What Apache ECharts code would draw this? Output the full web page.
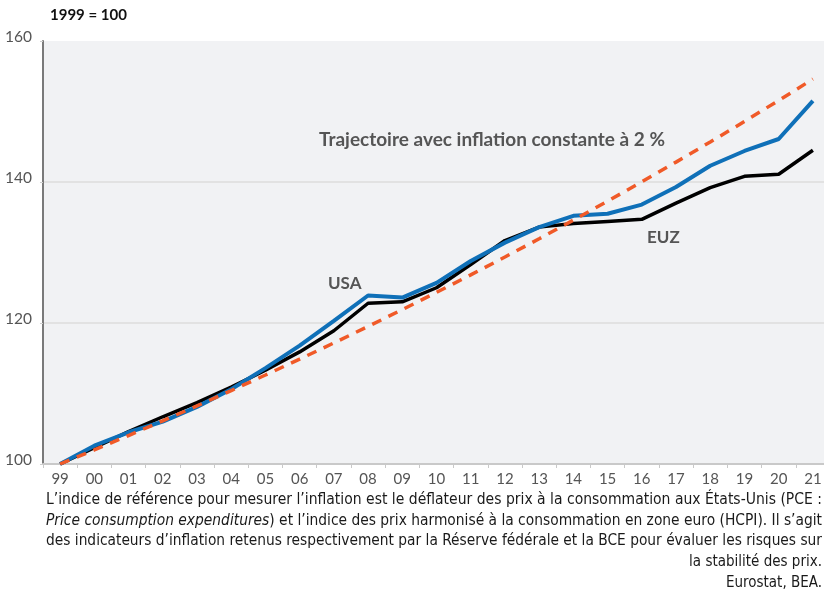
<!DOCTYPE html>
<html>
<head>
<meta charset="utf-8">
<script src="https://cdn.jsdelivr.net/npm/echarts@6/dist/echarts.min.js"></script>
<style>
html,body{margin:0;padding:0;background:#fff;}
#chart{width:824px;height:599px;}
</style>
</head>
<body>
<div id="chart"></div>
<script>
var categories = ['99','00','01','02','03','04','05','06','07','08','09','10','11','12','13','14','15','16','17','18','19','20','21'];
var usa = [100, 102.6, 104.5, 106.0, 108.1, 110.6, 113.6, 116.8, 120.3, 123.9, 123.6, 125.7, 128.8, 131.4, 133.6, 135.2, 135.5, 136.8, 139.3, 142.3, 144.4, 146.1, 151.5];
var euz = [100, 102.3, 104.6, 106.7, 108.7, 110.9, 113.3, 115.9, 118.9, 122.8, 123.0, 125.0, 128.3, 131.7, 133.6, 134.1, 134.4, 134.7, 137.0, 139.2, 140.8, 141.1, 144.5];
var trend2pct = [100, 102.0, 104.04, 106.12, 108.24, 110.41, 112.62, 114.87, 117.17, 119.51, 121.90, 124.34, 126.82, 129.36, 131.95, 134.59, 137.28, 140.02, 142.82, 145.68, 148.59, 151.57, 154.60];
var yTicks = [100, 120, 140, 160];
var footLines = [
  [{t:"L\u2019indice de r\u00e9f\u00e9rence pour mesurer l\u2019inflation est le d\u00e9flateur des prix \u00e0 la consommation aux \u00c9tats-Unis (PCE :", i:false}],
  [{t:"Price consumption expenditures", i:true},{t:") et l\u2019indice des prix harmonis\u00e9 \u00e0 la consommation en zone euro (HCPI). Il s\u2019agit", i:false}],
  [{t:"des indicateurs d\u2019inflation retenus respectivement par la R\u00e9serve f\u00e9d\u00e9rale et la BCE pour \u00e9valuer les risques sur", i:false}],
  [{t:"la stabilit\u00e9 des prix.", i:false}],
  [{t:"Eurostat, BEA.", i:false}]
];

var FONT = 'Lato';
var chart = echarts.init(document.getElementById('chart'), null, {renderer:'canvas'});

// footnote
var footSize = 15;
var footFont = '"Liberation Sans Narrow", "DejaVu Sans Condensed", sans-serif';
var cv = document.createElement('canvas').getContext('2d');
function measure(parts){
  var w = 0;
  parts.forEach(function(p){
    cv.font = (p.i ? 'italic ' : '') + footSize + 'px ' + footFont;
    w += cv.measureText(p.t).width;
  });
  return w;
}
var graphics = [];
footLines.forEach(function(parts, idx){
  var txt = parts.map(function(p){ return p.i ? '{i|' + p.t + '}' : p.t; }).join('');
  var w = measure(parts);
  var s = 1;
  if (idx < 3) { s = 776 / w; }
  graphics.push({
    type:'text', x:822, y:500 + idx*20.7, scaleX:s, silent:true,
    style:{text:txt, align:'right', verticalAlign:'middle', fill:'#1a1a1a',
      font: footSize + 'px ' + footFont,
      rich:{i:{fontStyle:'italic', fontSize:footSize, fontFamily:footFont, fill:'#1a1a1a'}}}
  });
});
graphics.push({type:'text', x:50, y:15, silent:true,
  style:{text:'1999 = 100', align:'left', verticalAlign:'middle', fill:'#111', font:'bold 15px ' + FONT}});
graphics.push({type:'text', x:319, y:140, silent:true,
  style:{text:'Trajectoire avec inflation constante \u00e0 2 %', align:'left', verticalAlign:'middle', fill:'#555', font:'bold 19px ' + FONT}});
graphics.push({type:'text', x:328, y:284, silent:true,
  style:{text:'USA', align:'left', verticalAlign:'middle', fill:'#555', font:'bold 17px ' + FONT}});
graphics.push({type:'text', x:647, y:238, silent:true,
  style:{text:'EUZ', align:'left', verticalAlign:'middle', fill:'#555', font:'bold 17px ' + FONT}});

var option = {
  animation:false,
  backgroundColor:'#ffffff',
  grid:{left:43, top:41, width:787, height:423, show:true, backgroundColor:'#f1f2f4', borderWidth:0, containLabel:false, outerBoundsMode:'none'},
  xAxis:{
    type:'category', data:categories, boundaryGap:true,
    axisLine:{lineStyle:{color:'#c9c9c9', width:2}},
    axisTick:{show:true, length:4, lineStyle:{color:'#c9c9c9', width:1}},
    axisLabel:{interval:0, color:'#555', fontSize:15, fontFamily:FONT, margin:8},
    splitLine:{show:false}
  },
  yAxis:{
    type:'value', min:yTicks[0], max:yTicks[yTicks.length-1], interval:20,
    axisLine:{show:true, lineStyle:{color:'#7a7a7a', width:2}},
    axisTick:{show:true, length:3, lineStyle:{color:'#cfcfcf'}},
    axisLabel:{color:'#555', fontSize:15.5, fontFamily:FONT, margin:11, verticalAlign:'bottom', padding:[0,0,-4,0]},
    splitLine:{show:true, lineStyle:{color:['rgba(0,0,0,0)','#dcdcdc','#dcdcdc','rgba(0,0,0,0)'], width:1.5}}
  },
  graphic: graphics,
  series:[
    {name:'EUZ', type:'line', data:euz, showSymbol:false, symbol:'none', lineStyle:{color:'#000000', width:3.5}, z:2},
    {name:'USA', type:'line', data:usa, showSymbol:false, symbol:'none', lineStyle:{color:'#0f70b8', width:4}, z:3},
    {name:'2%', type:'line', data:trend2pct, showSymbol:false, symbol:'none', lineStyle:{color:'#f05a28', width:3.5, type:[10,8]}, z:4}
  ]
};
chart.setOption(option);
</script>
</body>
</html>
